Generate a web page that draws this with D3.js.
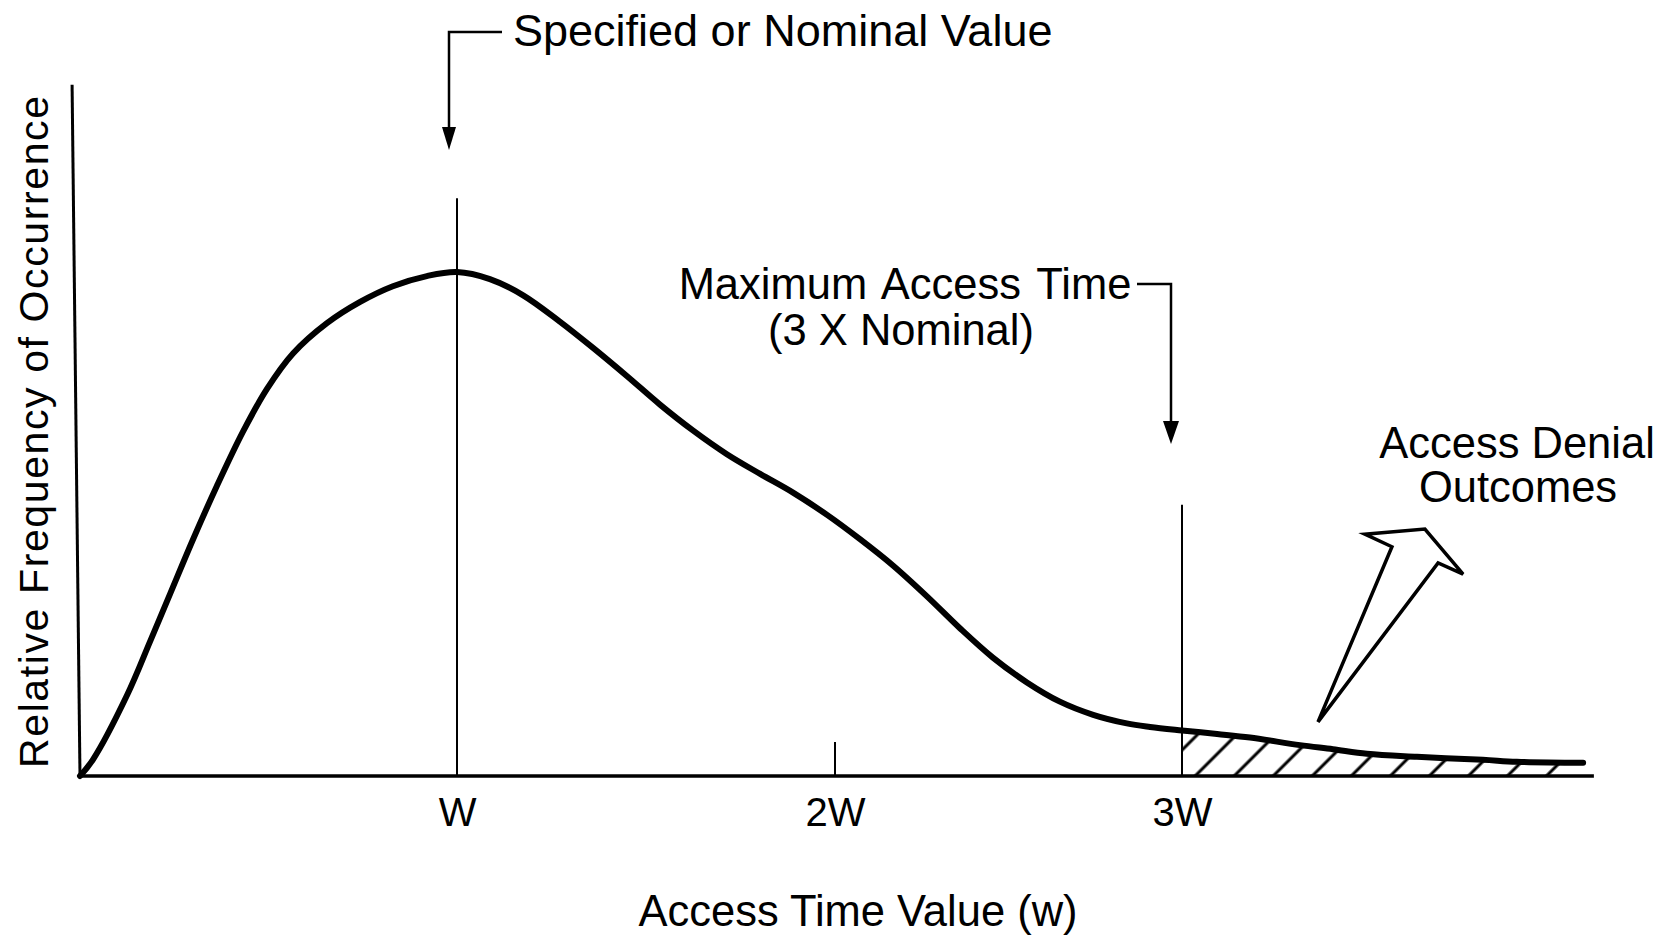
<!DOCTYPE html>
<html><head><meta charset="utf-8">
<script src="https://cdn.jsdelivr.net/npm/d3@7"></script>
<style>
body{margin:0;background:#fff}
svg{display:block;background:#fff}
text{font-family:"Liberation Sans",Arial,Helvetica,sans-serif;fill:#000}
</style>
</head><body>
<svg id="chart" width="1663" height="937"></svg>
<script>
// ---- data (x in units of W, y = relative frequency, peak ~100) ----
const accessTime = [0, 0.034, 0.125, 0.186, 0.239, 0.300, 0.363, 0.432, 0.496, 0.565, 0.655, 0.743, 0.830, 0.920, 1.0,
  1.087, 1.175, 1.272, 1.360, 1.450, 1.537, 1.624, 1.714, 1.802, 1.889, 1.979, 2.072, 2.167, 2.265, 2.360, 2.455,
  2.553, 2.648, 2.744, 2.841, 2.908, 3.0, 3.101, 3.196, 3.340, 3.435, 3.533, 3.677, 3.867, 3.965, 4.156];
const frequency = [0, 3.2, 16.0, 26.6, 36.0, 46.8, 57.3, 68.0, 76.5, 83.5, 89.5, 93.7, 96.8, 98.8, 99.6,
  98.2, 95.0, 89.8, 84.6, 79.0, 73.4, 68.3, 63.6, 59.7, 56.0, 51.6, 46.8, 41.6, 35.5, 29.2, 23.4,
  18.5, 14.7, 12.1, 10.4, 9.7, 9.0, 8.3, 7.6, 6.1, 5.3, 4.4, 3.8, 3.2, 2.8, 2.6];
const tickValues = [1, 2, 3];
const tickLabels = ["W", "2W", "3W"];
const markerX = [1, 2, 3];          // nominal, 2W tick, maximum
const markerTop = [114.2, 6.7, 53.6];
const nominalValue = 1;
const maxAccessTime = 3;
const axisEndX = 4.187;
const yAxisTop = [-0.021, 136.6];
const outcomeArrow = [[3.392, 10.7], [3.605, 45.3], [3.527, 47.8], [3.700, 48.8], [3.810, 39.9], [3.738, 42.1]];
const labels = {
  nominal: "Specified or Nominal Value",
  maxLine1: "Maximum Access Time",
  maxLine2: "(3 X Nominal)",
  denial1: "Access Denial",
  denial2: "Outcomes",
  xTitle: "Access Time Value (w)",
  yTitle: "Relative Frequency of Occurrence"
};

// ---- scales ----
const x = d3.scaleLinear().domain([0, 1, 2, 3]).range([80, 457, 835, 1182]);
const y = d3.scaleLinear().domain([0, 100]).range([776, 270]);

const svg = d3.select("#chart");
const pts = accessTime.map((v, i) => [v, frequency[i]]);
const curve = d3.curveCatmullRom.alpha(0.5);

// hatch pattern
const defs = svg.append("defs");
const pat = defs.append("pattern").attr("id", "hatch")
  .attr("patternUnits", "userSpaceOnUse").attr("width", 27.6).attr("height", 27.6)
  .attr("patternTransform", "rotate(45)");
pat.append("line").attr("x1", 13.8).attr("x2", 13.8).attr("y1", -1).attr("y2", 28.6)
  .attr("stroke", "#000").attr("stroke-width", 3);

// hatched tail area
const tail = pts.filter(d => d[0] >= maxAccessTime);
svg.append("path").datum(tail)
  .attr("d", d3.area().x(d => x(d[0])).y0(y(0)).y1(d => y(d[1])).curve(curve))
  .attr("fill", "url(#hatch)");

// marker lines
markerX.forEach((m, i) => {
  svg.append("line").attr("x1", x(m)).attr("x2", x(m)).attr("y1", y(0)).attr("y2", y(markerTop[i]))
    .attr("stroke", "#000").attr("stroke-width", 2);
});

// axes
svg.append("line").attr("x1", x(0) - 1).attr("x2", x(axisEndX)).attr("y1", y(0)).attr("y2", y(0))
  .attr("stroke", "#000").attr("stroke-width", 3.5);
svg.append("line").attr("x1", x(yAxisTop[0])).attr("y1", y(yAxisTop[1])).attr("x2", x(0)).attr("y2", y(0) + 1)
  .attr("stroke", "#000").attr("stroke-width", 3);

const xAxis = svg.append("g").attr("transform", `translate(0,${y(0)})`)
  .call(d3.axisBottom(x).tickValues(tickValues).tickFormat((d, i) => tickLabels[i]).tickSize(0).tickPadding(22));
xAxis.select(".domain").remove();
xAxis.selectAll("text").style("font-size", "40px").attr("fill", "#000")
  .style("font-family", '"Liberation Sans",Arial,Helvetica,sans-serif');

// curve
svg.append("path").datum(pts)
  .attr("d", d3.line().x(d => x(d[0])).y(d => y(d[1])).curve(curve))
  .attr("fill", "none").attr("stroke", "#000").attr("stroke-width", 6)
  .attr("stroke-linejoin", "round").attr("stroke-linecap", "round");

// hollow arrow
svg.append("polygon")
  .attr("points", outcomeArrow.map(d => [x(d[0]), y(d[1])].join(",")).join(" "))
  .attr("fill", "#fff").attr("stroke", "#000").attr("stroke-width", 3.5).attr("stroke-linejoin", "miter");

// nominal leader arrow
const ax1 = x(nominalValue) - 8;
svg.append("path").attr("d", `M${ax1 + 53},32 H${ax1} V130`).attr("fill", "none")
  .attr("stroke", "#000").attr("stroke-width", 2.5);
svg.append("polygon").attr("points", `${ax1 - 7},127 ${ax1 + 7},127 ${ax1},150`).attr("fill", "#000");
svg.append("text").attr("x", ax1 + 64).attr("y", 46).style("font-size", "45px").text(labels.nominal);

// maximum access time leader arrow
const ax3 = x(maxAccessTime) - 11;
svg.append("path").attr("d", `M${ax3 - 34},284 H${ax3} V425`).attr("fill", "none")
  .attr("stroke", "#000").attr("stroke-width", 2.5);
svg.append("polygon").attr("points", `${ax3 - 8},421 ${ax3 + 8},421 ${ax3},444`).attr("fill", "#000");
svg.append("text").attr("x", 905).attr("y", 299).attr("text-anchor", "middle")
  .style("font-size", "43.5px").style("word-spacing", "4px").text(labels.maxLine1);
svg.append("text").attr("x", 901).attr("y", 345).attr("text-anchor", "middle")
  .style("font-size", "43.5px").text(labels.maxLine2);

// access denial label
svg.append("text").attr("x", 1517).attr("y", 458).attr("text-anchor", "middle")
  .style("font-size", "43.5px").text(labels.denial1);
svg.append("text").attr("x", 1518).attr("y", 502).attr("text-anchor", "middle")
  .style("font-size", "43.5px").text(labels.denial2);

// axis titles
svg.append("text").attr("x", 858).attr("y", 926).attr("text-anchor", "middle")
  .style("font-size", "43.5px").text(labels.xTitle);
svg.append("text").attr("transform", "translate(48,432) rotate(-90)").attr("text-anchor", "middle")
  .attr("textLength", 672).attr("lengthAdjust", "spacing")
  .style("font-size", "41px").text(labels.yTitle);
</script>
</body></html>
